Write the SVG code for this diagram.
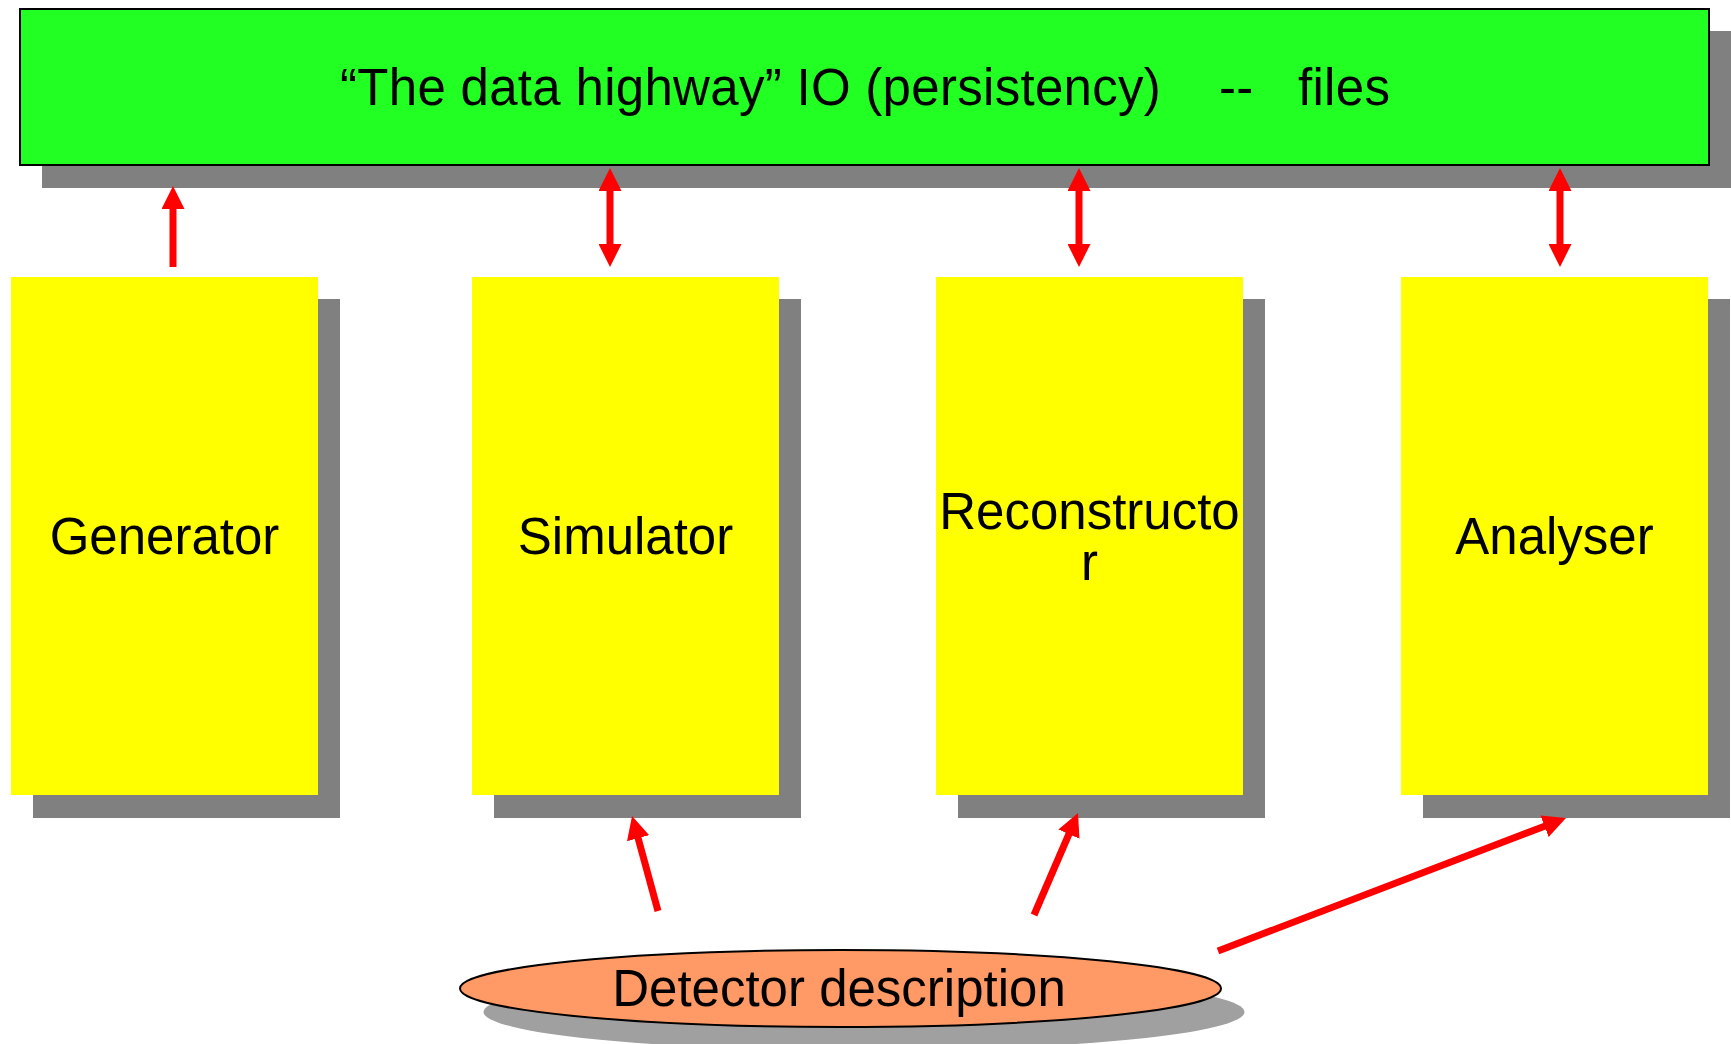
<svg xmlns="http://www.w3.org/2000/svg" width="1731" height="1044" viewBox="0 0 1731 1044">
<style>
.sh{fill:#808080}
.box{fill:#ffff00}
.lbl{font-family:"Liberation Sans",Arial,sans-serif;font-size:51px;fill:#000;text-anchor:middle}
.arr{stroke:#ff0000;stroke-width:7;fill:none}
</style>
<defs>
<marker id="ah" markerUnits="userSpaceOnUse" markerWidth="23" markerHeight="23" viewBox="0 0 23 23" refX="5" refY="11.5" orient="auto-start-reverse">
<path d="M0,0 L23,11.5 L0,23 z" fill="#ff0000"/>
</marker>
</defs>
<rect width="1731" height="1044" fill="#ffffff"/>
<g id="highway">
<rect class="sh" x="42" y="31" width="1689" height="157"/>
<rect x="20" y="9" width="1689" height="156" fill="#22ff22" stroke="#000" stroke-width="2"/>
<text class="lbl" style="text-anchor:start;letter-spacing:0.3px" y="105"><tspan x="340">“The data highway” IO (persistency)</tspan><tspan x="1219">--</tspan><tspan x="1298">files</tspan></text>
</g>
<g id="generator">
<rect class="sh" x="33" y="299" width="307" height="519"/>
<rect class="box" x="11" y="277" width="307" height="518"/>
<text class="lbl" x="164.5" y="554">Generator</text>
</g>
<g id="simulator">
<rect class="sh" x="494" y="299" width="307" height="519"/>
<rect class="box" x="472" y="277" width="307" height="518"/>
<text class="lbl" x="625.5" y="554">Simulator</text>
</g>
<g id="reconstructor">
<rect class="sh" x="958" y="299" width="307" height="519"/>
<rect class="box" x="936" y="277" width="307" height="518"/>
<text class="lbl" x="1089.5" y="529">Reconstructo<tspan x="1089.5" dy="51">r</tspan></text>
</g>
<g id="analyser">
<rect class="sh" x="1423" y="299" width="307" height="519"/>
<rect class="box" x="1401" y="277" width="307" height="518"/>
<text class="lbl" x="1554.5" y="554">Analyser</text>
</g>
<g id="detector">
<ellipse cx="864" cy="1012" rx="380.5" ry="38.5" fill="#a0a0a0"/>
<ellipse cx="840.5" cy="988.5" rx="380.5" ry="38.5" fill="#ff9966" stroke="#000" stroke-width="2"/>
<text class="lbl" x="839" y="1006">Detector description</text>
</g>
<g id="connectors">
<line class="arr" x1="173" y1="267" x2="173" y2="204" marker-end="url(#ah)"/>
<line class="arr" x1="610" y1="186" x2="610" y2="249" marker-start="url(#ah)" marker-end="url(#ah)"/>
<line class="arr" x1="1079" y1="186" x2="1079" y2="249" marker-start="url(#ah)" marker-end="url(#ah)"/>
<line class="arr" x1="1560" y1="186" x2="1560" y2="249" marker-start="url(#ah)" marker-end="url(#ah)"/>
<line class="arr" x1="658" y1="911" x2="636.8" y2="833.4" marker-end="url(#ah)"/>
<line class="arr" x1="1034" y1="915" x2="1070.9" y2="829.5" marker-end="url(#ah)"/>
<line class="arr" x1="1218" y1="951" x2="1549.2" y2="824.4" marker-end="url(#ah)"/>
</g>
</svg>
